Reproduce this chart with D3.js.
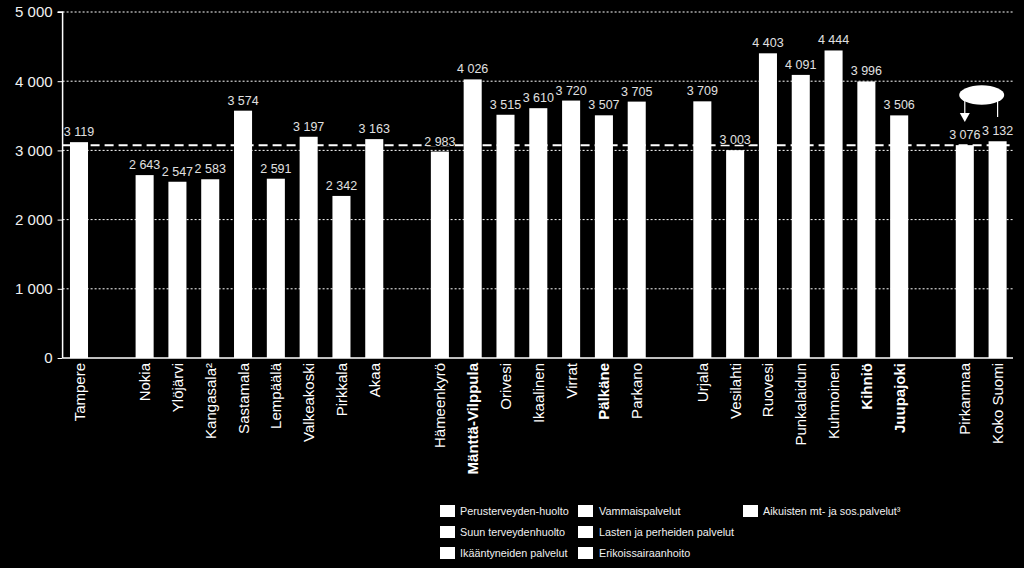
<!DOCTYPE html>
<html><head><meta charset="utf-8">
<script src="https://cdn.jsdelivr.net/npm/d3@7"></script>
<style>body{margin:0;background:#000;}svg{display:block;}</style>
</head><body>
<svg id="c" width="1024" height="568"></svg>
<script>
const categories = ["Tampere","Nokia","Ylöjärvi","Kangasala²","Sastamala","Lempäälä","Valkeakoski","Pirkkala","Akaa",
  "Hämeenkyrö","Mänttä-Vilppula","Orivesi","Ikaalinen","Virrat","Pälkäne","Parkano",
  "Urjala","Vesilahti","Ruovesi","Punkalaidun","Kuhmoinen","Kihniö","Juupajoki",
  "Pirkanmaa","Koko Suomi"];
const values = [3119,2643,2547,2583,3574,2591,3197,2342,3163,
  2983,4026,3515,3610,3720,3507,3705,
  3709,3003,4403,4091,4444,3996,3506,
  3076,3132];
const groups = [0,1,1,1,1,1,1,1,1, 2,2,2,2,2,2,2, 3,3,3,3,3,3,3, 4,4];
const boldNames = ["Mänttä-Vilppula","Pälkäne","Kihniö","Juupajoki"];
const yTicks = [0,1000,2000,3000,4000,5000];
const referenceValue = 3076;
const legendCol1 = ["Perusterveyden-huolto","Suun terveydenhuolto","Ikääntyneiden palvelut"];
const legendCol2 = ["Vammaispalvelut","Lasten ja perheiden palvelut","Erikoissairaanhoito"];
const legendCol3 = ["Aikuisten mt-  ja sos.palvelut³"];

const svg = d3.select("#c");
const font = "Liberation Sans, Arial, sans-serif";
const fmt = d => d3.format(",")(d).replace(/,/g," ");
const slots = categories.map((c,i)=> i + groups[i]);
const nSlots = d3.max(slots)+1;
const x = d3.scaleBand().domain(d3.range(nSlots)).range([62.6,1014]).paddingInner(0.45).paddingOuter(0.225);
const y = d3.scaleLinear().domain([0,5000]).range([358,12]);
const xl = 62.6, xr = 1013;

// gridlines
svg.append("g").selectAll("line").data(yTicks.filter(d=>d>0)).join("line")
  .attr("x1",xl).attr("x2",xr).attr("y1",d=>y(d)).attr("y2",d=>y(d))
  .attr("stroke","#fff").attr("stroke-width",1).attr("stroke-dasharray","2,2");

// reference dashed line
svg.append("line").attr("x1",xl).attr("x2",xr).attr("y1",y(referenceValue)).attr("y2",y(referenceValue))
  .attr("stroke","#fff").attr("stroke-width",2).attr("stroke-dasharray","9,5");

// bars
svg.append("g").selectAll("rect").data(values).join("rect")
  .attr("x",(d,i)=>x(slots[i])).attr("width",x.bandwidth())
  .attr("y",d=>y(d)).attr("height",d=>y(0)-y(d)).attr("fill","#fff");

// value labels with black backing
const lg = svg.append("g").selectAll("g").data(values).join("g")
  .attr("transform",(d,i)=>`translate(${x(slots[i])+x.bandwidth()/2},${y(d)-6})`);
lg.append("rect").attr("x",-15).attr("y",-10).attr("width",30).attr("height",10.5).attr("fill","#000");
lg.append("text").attr("text-anchor","middle").attr("fill","#e0e0e0")
  .style("font-family",font).style("font-size","12.5px")
  .text(d=>fmt(d));

// y axis
const yAxis = d3.axisLeft(y).tickValues(yTicks).tickSize(5).tickPadding(5).tickFormat(fmt);
const ga = svg.append("g").attr("transform",`translate(${xl},0)`).call(yAxis);
ga.select(".domain").attr("stroke","#fff").attr("stroke-width",1.5).attr("d",`M-5,${y(5000)}H0V${y(0)}`);
ga.selectAll(".tick line").attr("stroke","#fff");
ga.selectAll(".tick text").attr("fill","#f0f0f0").style("font-family",font).style("font-size","15px");

// x axis line
svg.append("line").attr("x1",xl).attr("x2",xr).attr("y1",y(0)).attr("y2",y(0)).attr("stroke","#fff").attr("stroke-width",1.5);

// category labels
svg.append("g").selectAll("text").data(categories).join("text")
  .attr("transform",(d,i)=>`translate(${x(slots[i])+x.bandwidth()/2+5.5},363) rotate(-90)`)
  .attr("text-anchor","end").attr("fill","#fff")
  .style("font-family",font).style("font-size","15px")
  .style("font-weight",d=>boldNames.includes(d)?"bold":"normal")
  .text(d=>d);

// ellipse annotation with arrow
const iP = categories.indexOf("Pirkanmaa"), iK = categories.indexOf("Koko Suomi");
const xP = x(slots[iP])+x.bandwidth()/2, xK = x(slots[iK])+x.bandwidth()/2;
const ex = (xP+xK)/2 + 0.5, ey = 95;
svg.append("line").attr("x1",xP).attr("x2",xP).attr("y1",ey).attr("y2",114).attr("stroke","#fff").attr("stroke-width",1.2);
svg.append("path").attr("d",`M${xP-5},113L${xP+5},113L${xP},122Z`).attr("fill","#fff");
svg.append("line").attr("x1",xK).attr("x2",xK).attr("y1",ey).attr("y2",117).attr("stroke","#fff").attr("stroke-width",1.2);
svg.append("ellipse").attr("cx",ex).attr("cy",ey).attr("rx",22.5).attr("ry",9.7).attr("fill","#fff");

// legend
function legendCol(items,sx,tx){
  const g = svg.append("g");
  items.forEach((t,i)=>{
    const cy = 511 + i*21;
    g.append("rect").attr("x",sx).attr("y",cy-6).attr("width",15).attr("height",12).attr("fill","#fff");
    g.append("text").attr("x",tx).attr("y",cy+4).attr("fill","#f0f0f0")
      .style("font-family",font).style("font-size","10.8px").text(t);
  });
}
legendCol(legendCol1,440,460);
legendCol(legendCol2,578,599);
legendCol(legendCol3,743,763);
</script>
</body></html>
